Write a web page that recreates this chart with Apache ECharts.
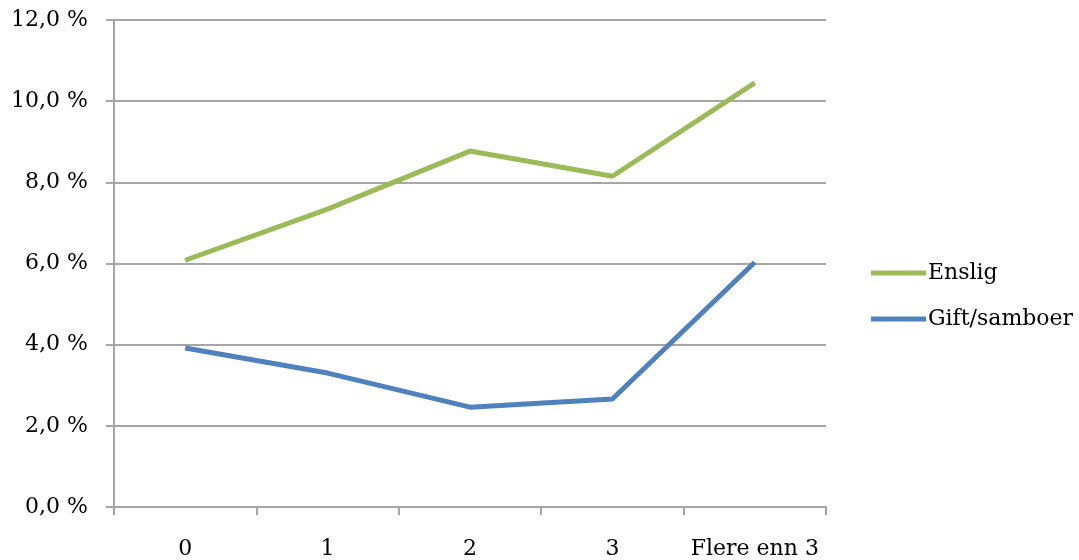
<!DOCTYPE html>
<html><head><meta charset="utf-8">
<script src="https://cdn.jsdelivr.net/npm/echarts@6/dist/echarts.min.js"></script>
<style>html,body{margin:0;padding:0;background:#fff}#c{width:1079px;height:560px}</style>
</head><body><div id="c"></div>
<script>
const categories = ['0', '1', '2', '3', 'Flere enn 3'];
const enslig = [6.08, 7.34, 8.77, 8.15, 10.45];
const gift = [3.92, 3.30, 2.46, 2.66, 6.03];
const seriesNames = ['Enslig', 'Gift/samboer'];
const colors = ['#9BBB59', '#4F81BD'];
const font = 'DejaVu Serif';
const chart = echarts.init(document.getElementById('c'));
chart.setOption({
  animation: false,
  textStyle: {fontFamily: font},
  grid: {left: 114, right: 253, top: 20, bottom: 53},
  legend: {
    orient: 'vertical', left: 866, top: 257, itemGap: 24, itemWidth: 55, itemHeight: 5,
    icon: 'rect',
    textStyle: {fontFamily: font, fontSize: 22, color: '#000', padding: [0,0,0,-3]},
    data: seriesNames
  },
  xAxis: {
    type: 'category', data: categories, boundaryGap: true,
    axisLine: {lineStyle: {color: '#a6a6a6', width: 2}},
    axisTick: {show: true, length: 8, interval: 0, lineStyle: {color: '#a6a6a6', width: 2}},
    axisLabel: {fontFamily: font, fontSize: 22, color: '#000', margin: 31, interval: 0}
  },
  yAxis: {
    type: 'value', min: 0, max: 12, interval: 2,
    axisLine: {show: true, lineStyle: {color: '#a6a6a6', width: 2}},
    axisTick: {show: true, length: 8, lineStyle: {color: '#a6a6a6', width: 2}},
    splitLine: {lineStyle: {color: '#a6a6a6', width: 2}},
    axisLabel: {fontFamily: font, fontSize: 22, color: '#000', margin: 26, padding: [8, 0, 0, 0],
      formatter: v => v.toFixed(1).replace('.', ',') + ' %'}
  },
  series: [
    {name: seriesNames[0], type: 'line', data: enslig, symbol: 'none', lineStyle: {width: 5, color: colors[0]}, itemStyle: {color: colors[0]}},
    {name: seriesNames[1], type: 'line', data: gift, symbol: 'none', lineStyle: {width: 5, color: colors[1]}, itemStyle: {color: colors[1]}}
  ]
});
</script></body></html>
